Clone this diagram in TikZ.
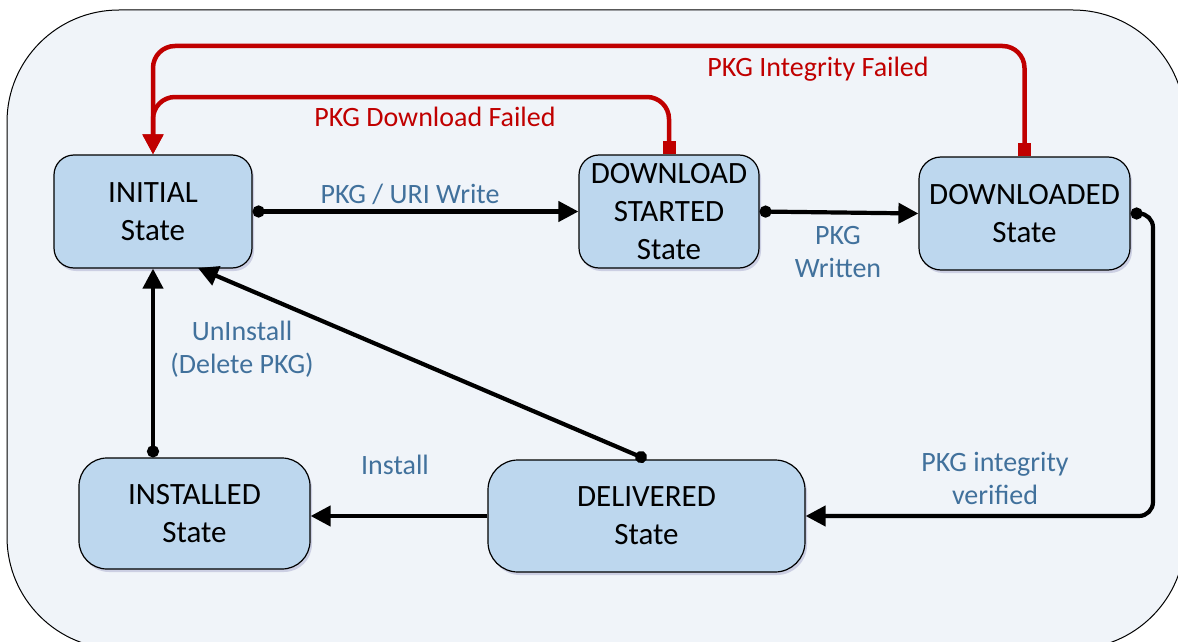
\documentclass[tikz,border=0pt]{standalone}
\usepackage{fontspec}
\setmainfont{Carlito}
\usetikzlibrary{arrows.meta,shadows,calc}
\definecolor{bgfill}{HTML}{F0F4F9}
\definecolor{nodefill}{HTML}{BDD7EE}
\definecolor{lblblue}{HTML}{41719C}
\definecolor{failred}{HTML}{C00000}
\begin{document}
\begin{tikzpicture}[x=1pt,y=-1pt,
  statebox/.style={draw=black, line width=1.2pt, fill=nodefill, align=center,
    inner sep=0pt, font=\fontsize{31}{38}\selectfont,
    drop shadow={shadow xshift=2pt, shadow yshift=-3pt, opacity=0.15, fill=black!60!blue}},
  lbl/.style={align=center, text=lblblue, font=\fontsize{28}{33}\selectfont, inner sep=0pt},
  redlbl/.style={text=failred, font=\fontsize{28}{33}\selectfont, inner sep=0pt},
  blk/.style={draw=black, line width=4.2pt, -{Triangle[length=20pt,width=20pt]}},
  blkdot/.style={draw=black, line width=4.2pt, {Circle[length=12pt]}-{Triangle[length=20pt,width=20pt]}},
  redarr/.style={draw=failred, line width=4.5pt, rounded corners=22pt,
    {Square[length=13pt,width=13pt]}-{Triangle[length=20pt,width=20pt]}}]
\useasboundingbox (0,0) rectangle (1178,642);
\begin{scope}
\clip (0,0) rectangle (1178,642);
\draw[fill=bgfill, line width=1pt, rounded corners=112pt] (7,10) rectangle (1185,649);
\end{scope}

\node[statebox, rounded corners=20pt, minimum width=198pt, minimum height=113pt] (init) at (153,211.5) {INITIAL\\State};
\node[statebox, rounded corners=20pt, minimum width=180pt, minimum height=113pt] (ds) at (669,211.5) {DOWNLOAD\\STARTED\\State};
\node[statebox, rounded corners=22pt, minimum width=211pt, minimum height=113pt] (dled) at (1024.5,213.5) {DOWNLOADED\\State};
\node[statebox, rounded corners=28pt, minimum width=231pt, minimum height=111pt] (inst) at (194.5,513.5) {INSTALLED\\State};
\node[statebox, rounded corners=30pt, minimum width=317pt, minimum height=112pt] (deliv) at (646.5,516) {DELIVERED\\State};

\coordinate (r1) at (153,97);
\coordinate (r2) at (153,46);
\coordinate (c1) at (1153,516);
\coordinate (tipA) at (198,268);

\draw[blkdot] (init.east) -- (ds.west);
\draw[blkdot] (ds.east) -- (dled.west);
\draw[blkdot, rounded corners=14pt] (dled.east) -| (c1) -- (deliv.east);
\draw[blk] (deliv.west) -- (deliv.west -| inst.east);
\draw[blkdot] (deliv.north) -- (tipA);
\draw[blkdot] (inst.north -| init.south) -- (init.south);
\draw[redarr] (ds.north) |- (r1) -- (init.north);
\draw[redarr] (dled.north) |- (r2) -- (init.north);

\node[lbl] (l1) at (410,194) {PKG / URI Write};
\node[lbl] (l2) at (838,252.5) {PKG\\Written};
\node[lbl] (l3) at (995,478) {PKG integrity\\verified};
\node[lbl] (l4) at (395,465) {Install};
\node[lbl] (l5) at (242,349) {UnInstall\\(Delete PKG)};
\node[redlbl] (l6) at (435,117) {PKG Download Failed};
\node[redlbl] (l7) at (818,69) {PKG Integrity Failed};
\end{tikzpicture}
\end{document}
